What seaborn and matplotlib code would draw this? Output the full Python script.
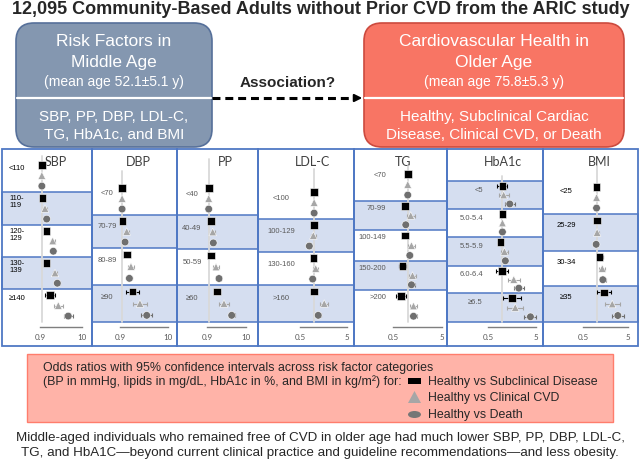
import matplotlib.pyplot as plt
import matplotlib.patches as mpatches
from matplotlib.ticker import NullLocator
import seaborn as sns
import pandas as pd
import numpy as np

# ------------------------------------------------------------------
# data: odds ratios (reference category = 1)
# ------------------------------------------------------------------
series = ["Healthy vs Subclinical Disease", "Healthy vs Clinical CVD", "Healthy vs Death"]

sbp_cats = ["<110", "110-\n119", "120-\n129", "130-\n139", "≥140"]
sbp_sub = [1.00, 1.05, 1.32, 1.32, 1.60]
sbp_cvd = [1.00, 1.20, 1.86, 2.13, 2.57]
sbp_death = [1.00, 1.32, 1.93, 2.43, 4.55]
sbp_ci = [[1, 1.10, 1.10, 1.15, 1.30], [1, 1.10, 1.12, 1.15, 1.30], [1, 1.10, 1.12, 1.15, 1.30]]

dbp_cats = ["<70", "70-79", "80-89", "≥90"]
dbp_sub = [1.00, 1.03, 1.26, 1.70]
dbp_cvd = [1.00, 1.26, 1.56, 2.45]
dbp_death = [1.00, 1.16, 1.44, 3.44]
dbp_ci = [[1, 1.08, 1.12, 1.38], [1, 1.10, 1.15, 1.42], [1, 1.08, 1.12, 1.30]]

pp_cats = ["<40", "40-49", "50-59", "≥60"]
pp_sub = [1.00, 1.15, 1.15, 1.64]
pp_cvd = [1.00, 1.28, 1.57, 2.57]
pp_death = [1.00, 1.33, 1.89, 4.13]
pp_ci = [[1, 1.10, 1.12, 1.20], [1, 1.12, 1.17, 1.40], [1, 1.10, 1.14, 1.20]]

ldl_cats = ["<100", "100-129", "130-160", ">160"]
ldl_sub = [1.00, 1.00, 0.96, 1.00]
ldl_cvd = [1.00, 0.96, 1.08, 1.64]
ldl_death = [1.00, 0.79, 0.93, 1.22]
ldl_ci = [[1, 1.08, 1.08, 1.14], [1, 1.12, 1.12, 1.22], [1, 1.08, 1.08, 1.14]]

tg_cats = ["<70", "70-99", "100-149", "150-200", ">200"]
tg_sub = [1.00, 0.88, 0.88, 0.78, 0.72]
tg_cvd = [1.00, 1.15, 1.19, 1.25, 1.31]
tg_death = [1.00, 0.91, 1.10, 1.19, 1.31]
tg_ci = [[1, 1.08, 1.08, 1.20, 1.26], [1, 1.20, 1.20, 1.20, 1.20], [1, 1.08, 1.10, 1.20, 1.20]]

hba_cats = ["<5", "5.0-5.4", "5.5-5.9", "6.0-6.4", "≥6.5"]
hba_sub = [1.00, 1.00, 0.91, 0.99, 1.59]
hba_cvd = [1.06, 1.00, 1.10, 1.72, 1.85]
hba_death = [1.42, 1.00, 1.15, 2.19, 3.83]
hba_ci = [[1.27, 1, 1.10, 1.35, 1.55], [1.27, 1, 1.20, 1.33, 1.47], [1.27, 1, 1.10, 1.27, 1.33]]

bmi_cats = ["<25", "25-29", "30-34", "≥35"]
bmi_sub = [1.00, 1.02, 1.17, 1.45]
bmi_cvd = [1.00, 1.03, 1.34, 2.23]
bmi_death = [1.00, 0.98, 1.38, 2.97]
bmi_ci = [[1, 1.10, 1.17, 1.43], [1, 1.10, 1.17, 1.47], [1, 1.10, 1.17, 1.36]]

titles = ["SBP", "DBP", "PP", "LDL-C", "TG", "HbA1c", "BMI"]
tick_vals = [(0.9, 10), (0.9, 10), (0.9, 10), (0.5, 5), (0.5, 5), (0.5, 5), (0.5, 5)]
tick_text = [("0.9", "10")] * 3 + [("0.5", "5")] * 4

panels = [
    (sbp_cats, sbp_sub, sbp_cvd, sbp_death, sbp_ci),
    (dbp_cats, dbp_sub, dbp_cvd, dbp_death, dbp_ci),
    (pp_cats, pp_sub, pp_cvd, pp_death, pp_ci),
    (ldl_cats, ldl_sub, ldl_cvd, ldl_death, ldl_ci),
    (tg_cats, tg_sub, tg_cvd, tg_death, tg_ci),
    (hba_cats, hba_sub, hba_cvd, hba_death, hba_ci),
    (bmi_cats, bmi_sub, bmi_cvd, bmi_death, bmi_ci),
]

# ------------------------------------------------------------------
# layout (pixel coordinates of a 640x460 canvas)
# ------------------------------------------------------------------
panel_x = [2, 92, 177, 258, 354, 447, 543, 638]
axis_px = [(40, 82), (120, 168), (207, 246), (300, 347), (393, 442), (488, 536), (583, 628)]
band_edges = [
    [152, 193, 226, 258, 290, 323],
    [152, 216, 249, 286, 323],
    [152, 216, 250, 286, 323],
    [152, 220, 253, 286, 323],
    [152, 202, 231, 262, 291, 323],
    [152, 182, 210, 238, 267, 294, 323],
    [152, 215, 252, 287, 323],
]
has_header = [False, False, False, False, False, True, False]
title_x = [56, 138, 225, 313, 403, 503, 599]
ref_top = [157, 172, 160, 170, 167, 177, 167]
label_x = [9, 107, 192, 281, 386, 483, 566]
label_ha = ["left", "center", "center", "center", "right", "right", "center"]
label_dy = [3, 5, 6, 6, 1, 3, 4]
label_col = ["black", "#595959", "#595959", "#595959", "#595959", "#595959", "black"]

colors = {series[0]: "#000000", series[1]: "#a6a6a6", series[2]: "#6f6f6f"}
markers = {series[0]: "s", series[1]: "^", series[2]: "o"}
band_fill = "#d5def0"
band_edge = "#4f78c4"

sns.set_style("white")
plt.rcParams["font.family"] = ["Liberation Sans", "DejaVu Sans"]

fig = plt.figure(figsize=(6.4, 4.6), dpi=100)
bg = fig.add_axes([0, 0, 1, 1])
bg.set_xlim(0, 640)
bg.set_ylim(460, 0)
bg.axis("off")

# --- title ---
bg.text(321, 10, "12,095 Community-Based Adults without Prior CVD from the ARIC study",
        ha="center", va="center", fontsize=13, fontweight="bold")

# --- top boxes ---
def box(x0, x1, fc, ec, top_lines, bottom_lines):
    p = mpatches.FancyBboxPatch((x0, 24), x1 - x0, 124, boxstyle="round,pad=0,rounding_size=18",
                                fc=fc, ec=ec, lw=1.2, zorder=2)
    bg.add_patch(p)
    bg.plot([x0 + 0.6, x1 - 0.6], [99, 99], color="white", lw=1.6, zorder=3)
    cx = (x0 + x1) / 2
    for (txt, y, fs) in top_lines + bottom_lines:
        bg.text(cx, y, txt, ha="center", va="center", color="white", fontsize=fs, zorder=4)

box(16, 212, "#8497b0", "#56709a",
    [("Risk Factors in", 41, 12.5), ("Middle Age", 62, 12.5), ("(mean age 52.1±5.1 y)", 82, 10)],
    [("SBP, PP, DBP, LDL-C,", 117, 11), ("TG, HbA1c, and BMI", 135, 11)])
box(364, 624, "#f87564", "#cc4a3e",
    [("Cardiovascular Health in", 41, 12.5), ("Older Age", 62, 12.5), ("(mean age 75.8±5.3 y)", 82, 10)],
    [("Healthy, Subclinical Cardiac", 117, 11), ("Disease, Clinical CVD, or Death", 135, 11)])

bg.plot([212, 356], [99, 99], color="black", lw=2.2, ls=(0, (2.6, 1.6)), zorder=3)
bg.annotate("", xy=(365, 99), xytext=(354, 99),
            arrowprops=dict(arrowstyle="-|>", color="black", lw=1.5, mutation_scale=11))
bg.text(288, 83, "Association?", ha="center", va="center", fontsize=11, fontweight="bold")

# --- forest panels ---
def marker_ys(top, bottom, first):
    if first and bottom - top > 36:
        top = bottom - 33
    h = bottom - top
    c = (top + bottom) / 2
    return [c - 0.32 * h, c, c + 0.32 * h]

for i, (cats, sub, cvd, death, ci) in enumerate(panels):
    pl, pr = panel_x[i], panel_x[i + 1]
    edges = band_edges[i]
    # bands
    for b in range(len(edges) - 1):
        if b % 2 == 1:
            bg.add_patch(mpatches.Rectangle((pl, edges[b]), pr - pl, edges[b + 1] - edges[b],
                                            fc=band_fill, ec=band_edge, lw=1.1, zorder=1))
    bg.add_patch(mpatches.Rectangle((pl, 150), pr - pl, 197, fill=False, ec=band_edge, lw=1.3, zorder=2))
    bg.text(title_x[i], 162, titles[i], ha="center", va="center", fontsize=9,
            color="#404040", family=["Lato", "DejaVu Sans"], zorder=3)

    first_band = 1 if has_header[i] else 0
    rows = []
    for j, cat in enumerate(cats):
        b = first_band + j
        ys = marker_ys(edges[b], edges[b + 1], b == 0)
        for k, vals in enumerate([sub, cvd, death]):
            rows.append({"cat": cat, "series": series[k], "OR": vals[j], "y": ys[k],
                         "lo": vals[j] / ci[k][j], "hi": vals[j] * ci[k][j]})
        bg.text(label_x[i], ys[0] + label_dy[i], cat, ha=label_ha[i], va="center",
                fontsize=5.5, color=label_col[i], linespacing=1.1, zorder=3)
    df = pd.DataFrame(rows)

    x0, x1 = axis_px[i]
    ax = fig.add_axes([x0 / 640, 1 - 328 / 460, (x1 - x0) / 640, (328 - 150) / 460])
    ax.set_facecolor("none")
    ax.set_xscale("log")
    ax.set_xlim(*tick_vals[i])
    ax.set_ylim(328, 150)

    ax.plot([1, 1], [ref_top[i], 323], color="#d9d9d9", lw=1.3, zorder=1, clip_on=False)
    for s in series:
        d = df[df["series"] == s]
        ax.errorbar(d["OR"], d["y"], xerr=[d["OR"] - d["lo"], d["hi"] - d["OR"]], fmt="none",
                    ecolor=colors[s], elinewidth=0.8, capsize=1.4, capthick=0.8,
                    zorder=2, clip_on=False)
    sns.scatterplot(data=df, x="OR", y="y", hue="series", style="series", palette=colors,
                    markers=markers, s=30, edgecolor="white", linewidth=0.4, legend=False,
                    ax=ax, zorder=3, clip_on=False)

    for sp in ["top", "left", "right"]:
        ax.spines[sp].set_visible(False)
    ax.spines["bottom"].set_color("#7f7f7f")
    ax.spines["bottom"].set_linewidth(1.0)
    ax.set_xticks(list(tick_vals[i]))
    ax.set_xticklabels(list(tick_text[i]), family=["Lato", "DejaVu Sans"])
    ax.xaxis.set_minor_locator(NullLocator())
    ax.tick_params(axis="x", direction="in", length=3, width=1, color="#7f7f7f",
                   labelsize=5.8, labelcolor="#595959", pad=4)
    ax.set_yticks([])
    ax.set_xlabel("")
    ax.set_ylabel("")

# --- legend box ---
bg.add_patch(mpatches.Rectangle((27, 355), 586, 68, fc="#ffb3a8", ec="#ff7d6c", lw=1, zorder=1))
bg.text(43, 368, "Odds ratios with 95% confidence intervals across risk factor categories",
        ha="left", va="center", fontsize=8.9, zorder=2)
bg.text(43, 382, "(BP in mmHg, lipids in mg/dL, HbA1c in %, and BMI in kg/m²) for:",
        ha="left", va="center", fontsize=8.9, zorder=2)
bg.add_patch(mpatches.Rectangle((408, 379), 13, 6, fc="black", ec="none", zorder=2))
bg.add_patch(mpatches.Polygon([(408, 404), (421, 404), (414.5, 392)], closed=True,
                              fc="#a6a6a6", ec="none", zorder=2))
bg.add_patch(mpatches.Ellipse((414.5, 415.5), 13, 7, fc="#767676", ec="none", zorder=2))
for s, y in zip(series, [382, 398, 415]):
    bg.text(428, y, s, ha="left", va="center", fontsize=8.9, zorder=2)

# --- conclusion ---
bg.text(320, 438, "Middle-aged individuals who remained free of CVD in older age had much lower SBP, PP, DBP, LDL-C,",
        ha="center", va="center", fontsize=9.6)
bg.text(320, 453, "TG, and HbA1C\u2014beyond current clinical practice and guideline recommendations\u2014and less obesity.",
        ha="center", va="center", fontsize=9.6)

fig.savefig("out.png", dpi=100)
